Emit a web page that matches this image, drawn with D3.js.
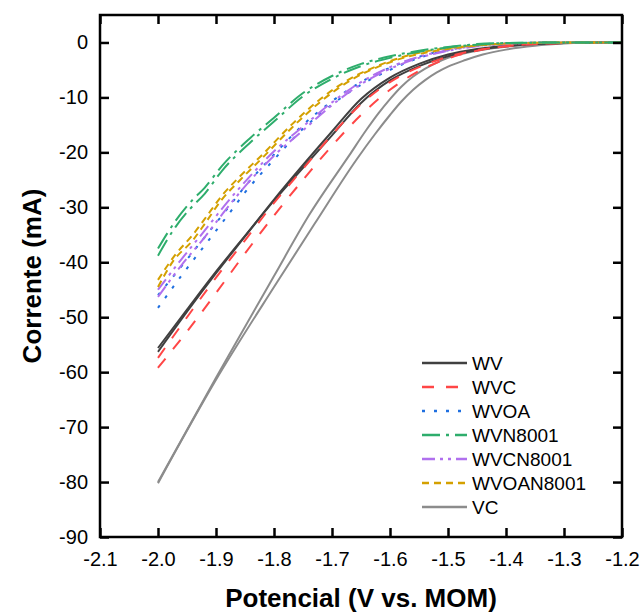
<!DOCTYPE html>
<html>
<head>
<meta charset="utf-8">
<script src="https://cdn.jsdelivr.net/npm/d3@7"></script>
<style>
  body { margin: 0; background: #fff; }
  text { font-family: "Liberation Sans", Arial, sans-serif; }
</style>
</head>
<body>
<div id="chart"></div>
<script>
// tick values
const xTicks = [-2.1, -2.0, -1.9, -1.8, -1.7, -1.6, -1.5, -1.4, -1.3, -1.2];
const yTicks = [0, -10, -20, -30, -40, -50, -60, -70, -80, -90];

// each sample has two scans: [potential (V), current (mA)]
const wvA = [[-2.0,-56.3],[-1.95,-49.0],[-1.9,-42.0],[-1.85,-35.3],[-1.8,-28.6],[-1.75,-22.3],[-1.7,-16.2],[-1.65,-10.3],[-1.6,-6.4],[-1.55,-3.9],[-1.5,-2.2],[-1.45,-1.2],[-1.4,-0.6],[-1.35,-0.25],[-1.3,-0.1],[-1.2,0]];
const wvB = [[-2.0,-55.6],[-1.95,-48.6],[-1.9,-41.7],[-1.85,-35.2],[-1.8,-28.8],[-1.75,-22.8],[-1.7,-16.9],[-1.65,-11.0],[-1.6,-6.9],[-1.55,-4.3],[-1.5,-2.5],[-1.45,-1.4],[-1.4,-0.7],[-1.35,-0.3],[-1.3,-0.1],[-1.2,0]];
const wvcA = [[-2.0,-59.2],[-1.95,-52.6],[-1.9,-45.6],[-1.85,-38.4],[-1.8,-31.5],[-1.75,-25.0],[-1.7,-18.8],[-1.65,-13.2],[-1.6,-8.6],[-1.55,-5.2],[-1.5,-2.9],[-1.45,-1.5],[-1.4,-0.7],[-1.3,-0.1],[-1.2,0]];
const wvcB = [[-2.0,-57.4],[-1.95,-50.0],[-1.9,-42.8],[-1.85,-36.0],[-1.8,-29.2],[-1.75,-23.0],[-1.7,-16.8],[-1.65,-11.2],[-1.6,-7.2],[-1.55,-4.5],[-1.5,-2.6],[-1.45,-1.4],[-1.4,-0.7],[-1.3,-0.1],[-1.2,0]];
const wvoaA = [[-2.0,-48.3],[-1.96,-42.5],[-1.92,-37.0],[-1.88,-31.5],[-1.85,-27.3],[-1.8,-21.3],[-1.75,-15.7],[-1.7,-11.3],[-1.65,-7.7],[-1.6,-5.0],[-1.55,-2.8],[-1.5,-1.4],[-1.45,-0.6],[-1.4,-0.2],[-1.3,0],[-1.2,0]];
const wvoaB = [[-2.0,-46.0],[-1.96,-40.8],[-1.92,-35.5],[-1.88,-30.2],[-1.85,-26.2],[-1.8,-20.4],[-1.75,-15.0],[-1.7,-10.7],[-1.65,-7.2],[-1.6,-4.6],[-1.55,-2.6],[-1.5,-1.3],[-1.45,-0.5],[-1.4,-0.2],[-1.3,0],[-1.2,0]];
const wvnA = [[-2.0,-38.8],[-1.97,-33.6],[-1.945,-30.3],[-1.92,-27.6],[-1.89,-23.4],[-1.84,-18.1],[-1.8,-14.4],[-1.75,-9.8],[-1.7,-6.6],[-1.65,-4.3],[-1.6,-2.8],[-1.55,-1.7],[-1.5,-0.9],[-1.45,-0.4],[-1.4,-0.1],[-1.3,0],[-1.2,0]];
const wvnB = [[-2.0,-37.5],[-1.97,-32.5],[-1.94,-28.6],[-1.92,-26.5],[-1.89,-22.5],[-1.84,-17.3],[-1.8,-13.7],[-1.75,-9.2],[-1.7,-6.1],[-1.65,-3.9],[-1.6,-2.5],[-1.55,-1.5],[-1.5,-0.8],[-1.45,-0.3],[-1.4,-0.1],[-1.3,0],[-1.2,0]];
const wvcnA = [[-2.0,-46.3],[-1.96,-40.6],[-1.92,-35.5],[-1.88,-30.0],[-1.84,-25.0],[-1.8,-20.6],[-1.75,-16.0],[-1.7,-11.4],[-1.65,-7.6],[-1.6,-4.8],[-1.55,-2.8],[-1.5,-1.5],[-1.45,-0.7],[-1.4,-0.3],[-1.3,0],[-1.2,0]];
const wvcnB = [[-2.0,-45.0],[-1.96,-39.5],[-1.92,-34.3],[-1.88,-29.0],[-1.84,-24.2],[-1.8,-19.8],[-1.75,-15.3],[-1.7,-10.9],[-1.65,-7.2],[-1.6,-4.5],[-1.55,-2.6],[-1.5,-1.4],[-1.45,-0.6],[-1.4,-0.2],[-1.3,0],[-1.2,0]];
const wvoanA = [[-2.0,-44.5],[-1.974,-39.8],[-1.94,-36.0],[-1.92,-33.1],[-1.89,-28.6],[-1.86,-25.2],[-1.82,-21.0],[-1.77,-15.6],[-1.72,-10.8],[-1.69,-8.4],[-1.66,-6.4],[-1.62,-4.4],[-1.58,-2.9],[-1.52,-1.5],[-1.47,-0.8],[-1.4,-0.2],[-1.3,0],[-1.2,0]];
const wvoanB = [[-2.0,-43.2],[-1.97,-38.6],[-1.94,-35.0],[-1.92,-32.2],[-1.89,-27.9],[-1.86,-24.5],[-1.82,-20.4],[-1.77,-15.0],[-1.72,-10.3],[-1.69,-8.0],[-1.66,-6.1],[-1.62,-4.2],[-1.58,-2.7],[-1.52,-1.3],[-1.47,-0.7],[-1.4,-0.2],[-1.3,0],[-1.2,0]];
const vcA = [[-2.0,-80.0],[-1.9,-61.0],[-1.8,-42.5],[-1.74,-31.5],[-1.67,-20.5],[-1.64,-15.8],[-1.62,-12.9],[-1.6,-10.3],[-1.58,-8.0],[-1.56,-6.2],[-1.54,-4.8],[-1.52,-3.7],[-1.5,-2.8],[-1.46,-1.7],[-1.42,-1.0],[-1.38,-0.55],[-1.3,-0.1],[-1.2,0]];
const vcB = [[-2.0,-80.2],[-1.9,-61.4],[-1.8,-44.5],[-1.73,-33.0],[-1.657,-21.2],[-1.626,-16.7],[-1.6,-13.2],[-1.58,-10.7],[-1.56,-8.6],[-1.54,-6.9],[-1.52,-5.5],[-1.5,-4.4],[-1.47,-3.2],[-1.44,-2.2],[-1.4,-1.3],[-1.35,-0.6],[-1.3,-0.2],[-1.25,0],[-1.2,0]];

const names = ["WV", "WVC", "WVOA", "WVN8001", "WVCN8001", "WVOAN8001", "VC"];
const scans = [[wvA, wvB], [wvcA, wvcB], [wvoaA, wvoaB], [wvnA, wvnB], [wvcnA, wvcnB], [wvoanA, wvoanB], [vcA, vcB]];
const colors = ["#404040", "#ff4646", "#1f6fe0", "#2ead6c", "#b070ee", "#d4a000", "#8c8c8c"];
const dashes = ["none", "12,12", "3,9", "18,6,3,6", "13,5,3,5,3,5", "7,5", "none"];

const W = 643, H = 612;
const pLeft = 100, pRight = 622, pTop = 15, pBottom = 537;

const svg = d3.select("#chart").append("svg")
    .attr("width", W)
    .attr("height", H);

const x = d3.scaleLinear().domain([-2.1, -1.2]).range([pLeft, pRight]);
const y = d3.scaleLinear().domain([-90, 5]).range([pBottom, pTop]);

svg.append("clipPath").attr("id", "plot")
    .append("rect")
    .attr("x", pLeft).attr("y", pTop)
    .attr("width", pRight - pLeft).attr("height", pBottom - pTop);

const line = d3.line()
    .x(d => x(d[0]))
    .y(d => y(d[1]))
    .curve(d3.curveMonotoneX);

// curves, VC first so coloured ones sit on top
const order = [6, 0, 1, 2, 4, 5, 3];
const curves = svg.append("g").attr("clip-path", "url(#plot)");
order.forEach(function (k) {
    scans[k].forEach(function (s) {
        curves.append("path")
            .attr("d", line(s))
            .attr("fill", "none")
            .attr("stroke", colors[k])
            .attr("stroke-width", 2)
            .attr("stroke-dasharray", dashes[k]);
    });
});

// axes (ticks pointing inwards)
function styleAxis(g) {
    g.select(".domain").remove();
    g.selectAll(".tick line").attr("stroke", "#000").attr("stroke-width", 2.5);
    g.selectAll(".tick text").attr("fill", "#000").style("font-size", "20px");
}

svg.append("g")
    .attr("transform", `translate(0,${pBottom})`)
    .call(d3.axisBottom(x).tickValues(xTicks).tickSize(-9).tickPadding(15).tickFormat(d => d.toFixed(1)))
    .call(styleAxis);
svg.append("g")
    .attr("transform", `translate(0,${pTop})`)
    .call(d3.axisTop(x).tickValues(xTicks).tickSize(-9).tickFormat(""))
    .call(styleAxis);
svg.append("g")
    .attr("transform", `translate(${pLeft},0)`)
    .call(d3.axisLeft(y).tickValues(yTicks).tickSize(-9).tickPadding(12).tickFormat(d => String(d)))
    .call(styleAxis);
svg.append("g")
    .attr("transform", `translate(${pRight},0)`)
    .call(d3.axisRight(y).tickValues(yTicks).tickSize(-9).tickFormat(""))
    .call(styleAxis);

svg.append("rect")
    .attr("x", pLeft).attr("y", pTop)
    .attr("width", pRight - pLeft).attr("height", pBottom - pTop)
    .attr("fill", "none")
    .attr("stroke", "#000")
    .attr("stroke-width", 2.5);

// axis titles
svg.append("text")
    .attr("x", (pLeft + pRight) / 2)
    .attr("y", 607)
    .attr("text-anchor", "middle")
    .style("font-size", "26px")
    .style("font-weight", "bold")
    .text("Potencial (V vs. MOM)");

svg.append("text")
    .attr("transform", `translate(41,${(pTop + pBottom) / 2}) rotate(-90)`)
    .attr("text-anchor", "middle")
    .style("font-size", "26px")
    .style("font-weight", "bold")
    .text("Corrente (mA)");

// legend
const lx = 422, ly = 363, step = 24;
names.forEach(function (n, i) {
    svg.append("line")
        .attr("x1", lx).attr("x2", lx + 45)
        .attr("y1", ly + i * step).attr("y2", ly + i * step)
        .attr("stroke", colors[i])
        .attr("stroke-width", 2.5)
        .attr("stroke-dasharray", dashes[i]);
    svg.append("text")
        .attr("x", lx + 50)
        .attr("y", ly + i * step)
        .attr("dominant-baseline", "central")
        .style("font-size", "19px")
        .text(n);
});
</script>
</body>
</html>
